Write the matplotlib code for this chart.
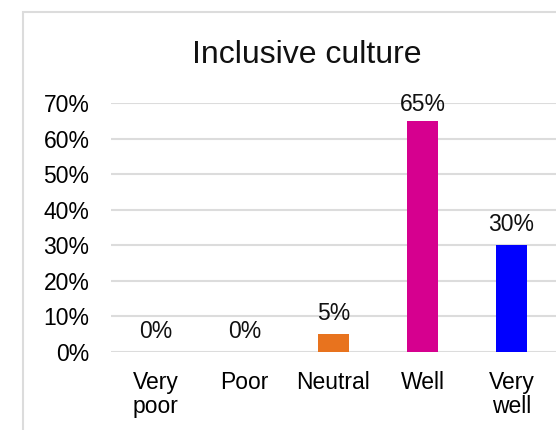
import matplotlib
matplotlib.use("Agg")
import matplotlib.pyplot as plt
from matplotlib.patches import Rectangle

categories = ["Very\npoor", "Poor", "Neutral", "Well", "Very\nwell"]
values = [0, 0, 5, 65, 30]
colors = ["#E8731E", "#E8731E", "#E8731E", "#D6008F", "#0000FF"]
yticks = [0, 10, 20, 30, 40, 50, 60, 70]
ytick_labels = ["0%", "10%", "20%", "30%", "40%", "50%", "60%", "70%"]
title = "Inclusive culture"

plt.rcParams['font.family'] = ['Liberation Sans', 'DejaVu Sans']

W, H = 556, 430
fig = plt.figure(figsize=(W / 100, H / 100), dpi=100)

# chart border (cropped at right/bottom)
fig.patches.append(Rectangle((23 / W, -0.1), 1.2, 1 - 12 / H + 0.1,
                             transform=fig.transFigure, fill=False,
                             edgecolor="#DCDCDC", linewidth=1.5, zorder=0))

ax = fig.add_axes([111 / W, 1 - 352 / H, (556 - 111) / W, (352 - 103) / H])
x = list(range(len(categories)))
ax.bar(x, values, width=0.34, color=colors, zorder=3)
ax.set_xlim(-0.5, len(categories) - 0.5)
ax.set_ylim(0, 70)
ax.set_yticks(yticks)
ax.set_yticklabels(ytick_labels, fontsize=16.5)
ax.set_xticks(x)
ax.set_xticklabels(categories, fontsize=16.5, linespacing=1.05)
ax.tick_params(axis='y', length=0, pad=15.5)
ax.tick_params(axis='x', length=0, pad=14)
for s in ax.spines.values():
    s.set_visible(False)
ax.grid(axis='y', color="#DCDCDC", linewidth=1.5, zorder=0)
ax.set_axisbelow(True)

for xi, v in zip(x, values):
    ax.text(xi, min(v + 4.0, 67.8), f"{v}%", ha='center', va='baseline',
            fontsize=16.5, color="#111111", zorder=4, clip_on=False)

fig.text(307 / W, 1 - 63 / H, title, ha='center', va='baseline', fontsize=23,
         color="#111111")

fig.savefig("out.png", dpi=100)
